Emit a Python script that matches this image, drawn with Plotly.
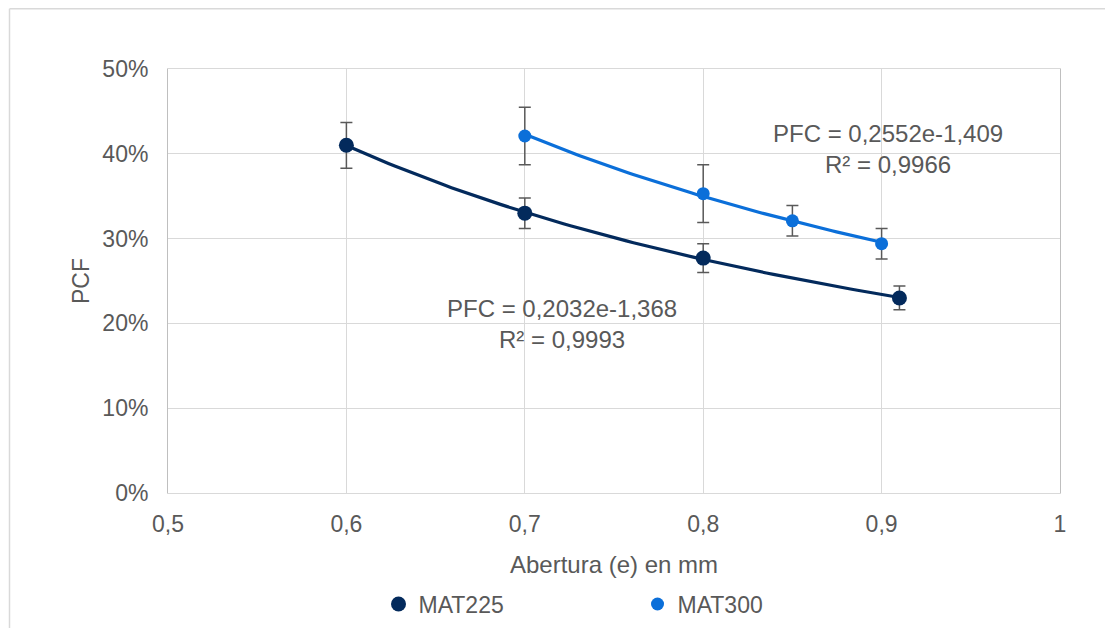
import numpy as np
import plotly.graph_objects as go

# ---- data ----
mat225_x = [0.6, 0.7, 0.8, 0.91]
mat225_y = [0.410, 0.330, 0.277, 0.230]
mat225_err = [0.027, 0.018, 0.017, 0.014]

mat300_x = [0.7, 0.8, 0.85, 0.9]
mat300_y = [0.421, 0.353, 0.321, 0.294]
mat300_err = [0.034, 0.034, 0.018, 0.018]

x_ticks = [0.5, 0.6, 0.7, 0.8, 0.9, 1.0]
x_tick_labels = ["0,5", "0,6", "0,7", "0,8", "0,9", "1"]
y_ticks = [0, 0.1, 0.2, 0.3, 0.4, 0.5]
y_tick_labels = ["0%", "10%", "20%", "30%", "40%", "50%"]

eq225 = ["PFC = 0,2032e-1,368", "R² = 0,9993"]
eq300 = ["PFC = 0,2552e-1,409", "R² = 0,9966"]

c225 = "#032A5C"
c300 = "#0B6FD9"
txt = "#595959"
grid = "#D9D9D9"
FONT = "Liberation Sans, Arial, sans-serif"


def power_fit(xs, ys):
    b, ln_a = np.polyfit(np.log(xs), np.log(ys), 1)
    xx = np.linspace(min(xs), max(xs), 80)
    return xx, np.exp(ln_a) * xx ** b


fig = go.Figure()
for xs, ys, col in [(mat225_x, mat225_y, c225), (mat300_x, mat300_y, c300)]:
    tx, ty = power_fit(xs, ys)
    fig.add_trace(go.Scatter(x=tx, y=ty, mode="lines", line=dict(color=col, width=3.2),
                             showlegend=False, hoverinfo="skip"))

for name, xs, ys, es, col, sz in [("MAT225", mat225_x, mat225_y, mat225_err, c225, 15),
                                  ("MAT300", mat300_x, mat300_y, mat300_err, c300, 13)]:
    fig.add_trace(go.Scatter(
        x=xs, y=ys, mode="markers", name=name,
        marker=dict(color=col, size=sz),
        error_y=dict(type="data", array=es, visible=True, color="#595959",
                     thickness=1.5, width=6),
    ))

fig.update_layout(
    width=1113, height=628,
    paper_bgcolor="white", plot_bgcolor="white",
    margin=dict(l=160, r=61, t=61, b=142),
    font=dict(family=FONT, color=txt, size=23),
    separators=",.",
    showlegend=True,
    legend=dict(orientation="h", x=0.236, xanchor="left", y=-0.259, yanchor="middle",
                font=dict(size=23, color=txt), entrywidth=214, entrywidthmode="pixels",
                itemwidth=30, tracegroupgap=0),
)
fig.update_xaxes(range=[0.5, 1.0], tickvals=x_ticks, ticktext=x_tick_labels,
                 showgrid=True, gridcolor=grid, gridwidth=1,
                 showline=True, linecolor=grid, linewidth=1, mirror=True,
                 zeroline=False, ticks="", ticklabelstandoff=10,
                 tickfont=dict(size=23, color=txt),
                 title=dict(text="Abertura (e) en mm", font=dict(size=24, color=txt), standoff=20))
fig.update_yaxes(range=[0, 0.5], tickvals=y_ticks, ticktext=y_tick_labels,
                 showgrid=True, gridcolor=grid, gridwidth=1,
                 showline=True, linecolor="#BFBFBF", linewidth=1, mirror=True,
                 zeroline=False, ticks="", ticklabelstandoff=14,
                 tickfont=dict(size=23, color=txt),
                 title=dict(text="PCF", font=dict(size=23, color=txt), standoff=6))

# trendline equation labels
fig.add_annotation(x=0.7209, y=0.1994, xref="x", yref="y", text="<br>".join(eq225),
                   showarrow=False, font=dict(size=24, color=txt), align="center")
fig.add_annotation(x=0.9036, y=0.4053, xref="x", yref="y", text="<br>".join(eq300),
                   showarrow=False, font=dict(size=24, color=txt), align="center")

# outer chart border (top and left visible)
x0 = (1.5 - 160) / 892
y_top = 1 + (61 - 0.5) / 425
fig.add_shape(type="line", xref="paper", yref="paper", x0=x0, x1=1.2, y0=y_top, y1=y_top,
              line=dict(color="#D9D9D9", width=1.5))
fig.add_shape(type="line", xref="paper", yref="paper", x0=x0, x1=x0, y0=-0.5, y1=y_top,
              line=dict(color="#D9D9D9", width=1.5))

fig.write_html("out.html")
